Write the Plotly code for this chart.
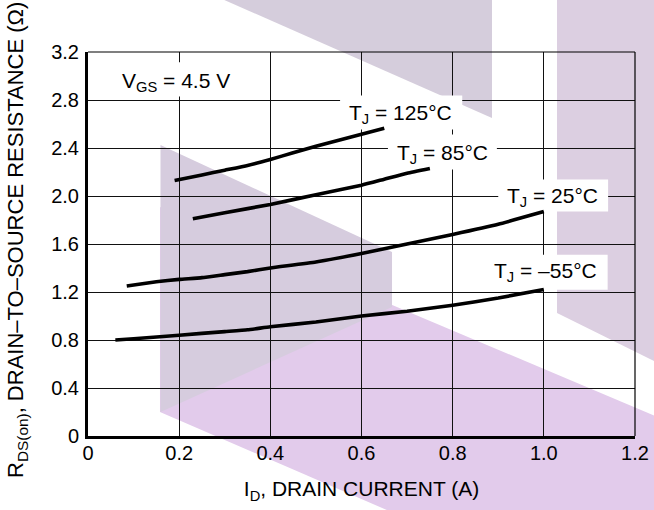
import plotly.graph_objects as go

# ---------------- data ----------------
id_125 = [0.19, 0.25, 0.30, 0.35, 0.40, 0.45, 0.50, 0.55, 0.60, 0.65]
r_125 = [2.13, 2.175, 2.215, 2.255, 2.305, 2.36, 2.415, 2.465, 2.515, 2.565]

id_85 = [0.23, 0.30, 0.40, 0.50, 0.60, 0.65, 0.70, 0.75]
r_85 = [1.81, 1.86, 1.93, 2.01, 2.09, 2.14, 2.19, 2.23]

id_25 = [0.085, 0.15, 0.20, 0.25, 0.30, 0.35, 0.40, 0.50, 0.60, 0.70, 0.80, 0.90, 1.00]
r_25 = [1.25, 1.285, 1.305, 1.32, 1.345, 1.37, 1.40, 1.45, 1.52, 1.60, 1.68, 1.765, 1.87]

id_m55 = [0.06, 0.10, 0.20, 0.30, 0.35, 0.40, 0.50, 0.60, 0.70, 0.80, 0.90, 1.00]
r_m55 = [0.80, 0.81, 0.84, 0.87, 0.885, 0.91, 0.95, 1.00, 1.04, 1.09, 1.15, 1.22]

x_ticks = [0, 0.2, 0.4, 0.6, 0.8, 1.0, 1.2]
x_tick_text = ["0", "0.2", "0.4", "0.6", "0.8", "1.0", "1.2"]
y_ticks = [0, 0.4, 0.8, 1.2, 1.6, 2.0, 2.4, 2.8, 3.2]
y_tick_text = ["0", "0.4", "0.8", "1.2", "1.6", "2.0", "2.4", "2.8", "3.2"]

curve_labels = ["T<sub>J</sub> = 125°C", "T<sub>J</sub> = 85°C",
                "T<sub>J</sub> = 25°C", "T<sub>J</sub> = –55°C"]
cond_label = "V<sub>GS</sub> = 4.5 V"
x_title = "I<sub>D</sub>, DRAIN CURRENT (A)"
y_title = "R<sub>DS(on)</sub>, DRAIN–TO–SOURCE RESISTANCE (Ω)"

# ---------------- layout geometry ----------------
W, H = 654, 510
L, R, T, B = 88, 19, 52, 74
PW, PH = W - L - R, H - T - B
FONT = "Liberation Sans, Arial, Helvetica, sans-serif"


def px_to_paper(px, py):
    return (px - L) / PW, (H - B - py) / PH


def paper_path(pts):
    s = ""
    for i, (px, py) in enumerate(pts):
        xp, yp = px_to_paper(px, py)
        s += ("M" if i == 0 else "L") + f"{xp:.4f},{yp:.4f} "
    return s + "Z"


fig = go.Figure()
series = [(id_125, r_125), (id_85, r_85), (id_25, r_25), (id_m55, r_m55)]
for xs, ys in series:
    fig.add_trace(go.Scatter(x=xs, y=ys, mode="lines",
                             line=dict(color="black", width=3.6, shape="spline", smoothing=0.4),
                             showlegend=False, hoverinfo="skip"))

shapes = []
# decorative background watermark (pixel-based polygons)
shapes.append(dict(type="path", xref="paper", yref="paper", layer="below",
                   path=paper_path([(160, 207), (660, 418), (660, 520), (410, 520), (160, 412)]),
                   fillcolor="#e2cbeb", line=dict(width=0)))
shapes.append(dict(type="path", xref="paper", yref="paper", layer="below",
                   path=paper_path([(160.5, 145), (392, 252), (392, 307), (160.5, 412)]),
                   fillcolor="#d6ccde", line=dict(width=0)))
shapes.append(dict(type="path", xref="paper", yref="paper", layer="below",
                   path=paper_path([(213, -5), (492, -5), (492, 118)]),
                   fillcolor="#d5cddc", line=dict(width=0)))
shapes.append(dict(type="path", xref="paper", yref="paper", layer="below",
                   path=paper_path([(557, -5), (660, -5), (660, 364), (557, 313)]),
                   fillcolor="#dccfe1", line=dict(width=0)))

# white label boxes (between grid and curves)
label_boxes = [(0.553, 0.821, 2.554, 2.838), (0.658, 0.897, 2.220, 2.513),
               (0.900, 1.141, 1.870, 2.137), (0.872, 1.140, 1.219, 1.511),
               (0.055, 0.331, 2.830, 3.114)]
for x0, x1, y0, y1 in label_boxes:
    shapes.append(dict(type="rect", xref="x", yref="y", layer="between",
                       x0=x0, x1=x1, y0=y0, y1=y1,
                       fillcolor="white", line=dict(width=0)))
# thin top / right frame
shapes.append(dict(type="line", xref="paper", yref="paper", x0=0, x1=1, y0=1, y1=1,
                   line=dict(color="black", width=1.2), layer="above"))
shapes.append(dict(type="line", xref="paper", yref="paper", x0=1, x1=1, y0=0, y1=1,
                   line=dict(color="black", width=1.2), layer="above"))

label_pos = [(0.685, 2.68), (0.777, 2.354), (1.018, 1.99), (1.003, 1.363)]
annotations = []
for (ax, ay), txt in zip(label_pos, curve_labels):
    annotations.append(dict(x=ax, y=ay, xref="x", yref="y", text=txt, showarrow=False,
                            font=dict(family=FONT, size=21, color="black")))
annotations.append(dict(x=0.193, y=2.947, xref="x", yref="y", text=cond_label, showarrow=False,
                        font=dict(family=FONT, size=21, color="black")))
# rotated y-axis title
ytx, yty = px_to_paper(17, 240)
annotations.append(dict(x=ytx, y=yty, xref="paper", yref="paper", text=y_title,
                        textangle=-90, showarrow=False, xanchor="center", yanchor="middle",
                        font=dict(family=FONT, size=22, color="black")))

fig.update_layout(
    width=W, height=H, autosize=False,
    margin=dict(l=L, r=R, t=T, b=B, pad=0, autoexpand=False),
    paper_bgcolor="white", plot_bgcolor="rgba(0,0,0,0)",
    font=dict(family=FONT, color="black"),
    shapes=shapes, annotations=annotations,
)
fig.update_xaxes(range=[0, 1.2], tickvals=x_ticks, ticktext=x_tick_text,
                 showgrid=True, gridcolor="#111111", gridwidth=1,
                 showline=True, linecolor="black", linewidth=3,
                 ticks="", zeroline=False, ticklabelstandoff=-3, automargin=False,
                 tickfont=dict(family=FONT, size=20, color="black"),
                 title=dict(text=x_title, standoff=19,
                            font=dict(family=FONT, size=21, color="black")))
fig.update_yaxes(range=[0, 3.2], tickvals=y_ticks, ticktext=y_tick_text,
                 showgrid=True, gridcolor="#111111", gridwidth=1,
                 showline=True, linecolor="black", linewidth=3,
                 ticks="", zeroline=False, ticklabelstandoff=2, automargin=False,
                 tickfont=dict(family=FONT, size=20, color="black"))

fig.write_html("out.html", config={"displayModeBar": False, "responsive": False},
               post_script="document.body.style.margin='0';document.body.style.overflow='hidden';")
